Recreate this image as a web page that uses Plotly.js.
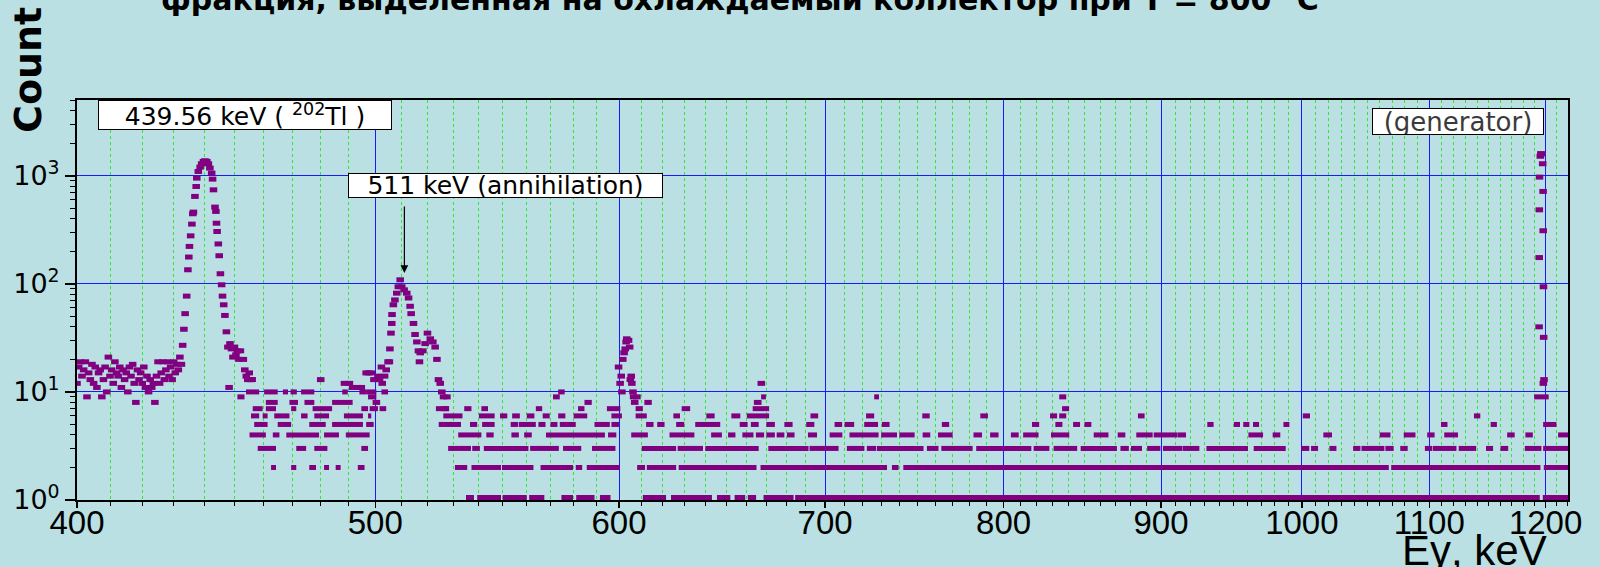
<!DOCTYPE html>
<html>
<head>
<meta charset="utf-8">
<script src="https://cdn.plot.ly/plotly-3.0.1.min.js"></script>
<style>
  html, body { margin: 0; padding: 0; background: #bae0e3; overflow: hidden; }
  #chart { width: 1600px; height: 567px; }
</style>
</head>
<body>
<div id="chart"></div>
<script>
// ---------- DATA ----------
// individually resolved channels (energy keV, counts)
const spotE = [
  400.0,400.5,401.0,401.5,402.0,402.5,403.0,403.5,404.0,404.5,405.0,405.5,406.0,406.5,407.0,407.5,408.0,408.5,409.0,409.5,
  410.0,410.5,411.0,411.5,412.0,412.5,413.0,413.5,414.0,414.5,415.0,415.5,416.0,416.5,417.0,417.5,418.0,418.5,419.0,419.5,
  420.0,420.5,421.0,421.5,422.0,422.5,423.0,423.5,424.0,424.5,425.0,425.5,426.0,426.5,427.0,427.5,428.0,428.5,429.0,429.5,
  430.0,430.5,431.0,431.5,432.0,432.5,
  432.9,433.3,433.7,434.2,434.6,434.9,435.1,435.5,435.9,436.2,436.4,436.9,437.3,437.5,438.0,438.6,439.1,439.7,440.2,440.8,
  441.3,441.8,442.4,442.7,443.0,443.5,443.8,444.0,444.2,444.6,444.9,445.3,445.7,446.0,446.4,446.8,447.3,447.8,448.2,448.5,
  449.0,449.5,450.0,450.5,451.0,451.5,452.0,453.0,453.5,454.0,454.5,455.0,455.5,456.0,480.0,
  488.6,490.4,491.6,493.5,494.8,496.6,497.5,498.5,499.5,500.4,501.0,501.6,502.3,502.6,503.5,504.1,504.8,
  505.3,505.5,505.9,506.2,506.3,506.8,507.4,508.1,508.7,509.4,510.0,510.9,511.9,512.6,513.2,513.6,514.5,515.1,515.8,516.4,
  516.8,517.1,518.1,519.0,519.9,521.0,522.0,522.9,523.6,524.2,524.9,525.5,526.2,526.8,527.5,
  599.8,600.5,601.0,601.3,601.7,602.3,602.8,603.2,603.5,604.3,604.8,605.1,605.5,605.8,606.3,606.6,607.1,608.1,
  667.4,
  1194.2,1194.3,1194.4,1194.6,1195.3,1195.8,1196.4,1197.4,1197.8,1197.9,1198.1,1198.3,1198.6,1198.0
];
const spotC = [
  12,17,19,14,16,19,9,15,13,18,12,17,11,15,16,9,13,17,10,21,
  14,16,12,19,15,14,17,11,16,13,15,10,17,14,18,12,8,16,13,15,
  12,17,11,14,10,13,11,12,8,14,19,12,15,19,13,16,19,14,17,13,
  19,15,18,16,21,18,
  27,38,53,77,135,177,222,278,357,445,461,644,796,951,1096,1203,1292,1358,1377,1358,
  1292,1178,1059,931,741,513,468,364,305,234,182,124,98,77,64,51,36,26,11,28,
  25,21,26,22,24,20,24,20,16,14,13,15,13,13,13,
  12,12,11,11,11,15,15,15,13,8,14,13,17,12,14,16,19,
  19,25,35,43,52,64,71,82,94,109,94,88,82,74,62,53,43,34,29,24,
  19,23,24,28,35,31,29,26,20,13,12,10,9,7,9,
  17,12,14,10,20,23,25,29,31,30,26,13,14,12,10,9,8,9,
  12,
  40,175,484,972,1515,1600,1596,1292,716,310,94,32,13,12
];

// continuous runs of channels sharing one count value: [start keV, end keV]
const band1 = [[535.1,538.3],[539.6,549.3],[550,560],[561,567.4],[574.7,579.7],[581.1,589.1],[591.5,596.2],[610.8,621.5],
  [623.8,643.2],[645.6,652.1],[654.2,659.4],[660.7,664.8],[668.5,683.7],[684.5,1194.8],[1197.5,1220.3]];
const band2 = [[462.5,464.2],[469.5,471.3],[475.9,478.3],[481.2,483.0],[485.4,487.2],[493.5,496.0],[530.7,535.6],
  [537.3,549.3],[549.7,562.8],[565.8,579.7],[580.9,583.7],[585.7,600.3],[608.2,611.8],[612.6,626.2],[627.4,665],
  [667,733.2],[735.9,739.6],[742.2,1067.2],[1069.1,1195.4],[1198.4,1220.3]];
const band3 = [[457.9,464.2],[471.3,474.8],[477.7,482.4],[494.8,497.3],[528,537.1],[537.6,540.7],[542.3,560.7],
  [561.4,573.6],[575.4,583.3],[588,598.4],[610.3,626.2],[626.9,638.9],[640,666.1],[670.9,691.4],[691.9,707.1],
  [711.5,720.9],[722.2,727.3],[727.7,753.5],[755.4,762],[763.6,781.7],[783.8,816.8],[818.2,827.9],[830.5,845.3],
  [847.5,870.8],[873.1,878.6],[880,887.3],[890.7,899.6],[901.3,914.6],[914.9,926.2],[931.1,960.5],[964.6,988],
  [999.4,1005.6],[1006.9,1012.2],[1020.8,1026.2],[1039.1,1044.8],[1045.6,1063.7],[1064.5,1071.1],[1076.4,1082.4],
  [1096.4,1102.5],[1103,1122.6],[1124.5,1139.3],[1147.7,1153.8],[1160.2,1166.9],[1181.5,1196.3],[1197.8,1220.3]];
const band4 = [[455.1,460.7],[463.1,465.4],[467.8,479.4],[481.2,486.6],[489.1,497.9],[532,541.3],[543.3,546.3],
  [553.6,556.7],[558.9,562.1],[568.1,593.7],[595.1,598.8],[605.5,613.1],[623.1,634.8],[642.8,648],[651,654.6],
  [658,663.5],[664.7,668.8],[669.9,674.2],[675.1,679],[680.3,684.2],[691.1,695.8],[702.4,709.1],[712.9,728.6],
  [730,738.7],[740,748.5],[753,757.3],[761.7,770.1],[782.2,787.2],[792,797],[804.4,809.1],[811.8,821.2],
  [828.9,840.3],[855.8,865.3],[871.3,876.3],[883.5,894.4],[895.1,911.3],[911.5,917],[960.8,971.4],[978.4,984],
  [1016.2,1022.8],[1060,1068.5],[1079.2,1088.7],[1098.3,1104.4],[1112.4,1123.9],[1166,1172.6],[1182,1188.6],[1211.3,1220.3]];
const band5 = [[456.7,461.3],[464.8,469.5],[475.9,481.8],[484.1,495.4],[496.6,499.4],[524.3,533.1],[536.7,539.6],
  [541.6,546.7],[553.3,556.4],[556.7,563.8],[564.9,567.9],[570,573],[574,580.9],[589.1,595.9],[596.6,600],
  [612.3,615.7],[617.4,620.8],[626.2,630],[635.2,647.2],[656.7,660.6],[662.2,666.1],[669.9,674.2],[679,683.2],
  [690.2,694.4],[705,709],[710.3,715.4],[720.8,728.3],[730.4,734.6],[763.9,768.1],[817.2,821.6],[831.6,836],
  [842.7,847.1],[849.9,854.3],[931.7,936.1],[950.4,954.8],[957.1,961.5],[964.1,968.5],[986.3,990.7],
  [1109.7,1115.1],[1151.7,1157.1],[1197.8,1209.8]];
const band6 = [[455.6,458.4],[459.6,461.3],[463.6,468.9],[473,475.3],[477.7,483],[488.4,495.4],[497.3,498.5],
  [526.1,533.7],[540.3,546.7],[548.9,551.9],[553.9,557.1],[560,563.2],[566.7,569.7],[573.3,576.4],[580,585.9],
  [596.6,601.3],[607.5,612.6],[624.9,628],[640.5,644.5],[652.6,657],[660.2,671.3],[692.4,696.4],[721.8,726.2],
  [752.8,757],[786.2,790.7],[828.3,832.7],[834,838.4],[884.6,889],[1000.7,1006.1],[1137.4,1142.8]];
const band7 = [[456.2,459.6],[460.7,464.2],[469.5,471.3],[477.1,484.1],[494.8,497.3],[497.9,501],[501.6,504.1],
  [523.2,528.4],[534.4,537.3],[541.3,544],[563.8,566.5],[581.9,584.7],[594.6,600.6],[607.5,610.8],[628.8,632.8],
  [663.1,671.3],[835.8,840.2]];
const band8 = [[460.7,464.8],[468.9,471.9],[474.2,477.7],[484.1,491.6],[584.7,587.9],[611.5,614.9],[663.7,667.5]];
const band9 = [[451,453.4],[497.3,500.4],[571.1,574],[667.3,669.7],[726.2,728.8],[834,838.4],[1189.8,1202.8]];
const band10 = [[453.9,458.4],[460.1,464.8],[466.6,468.4],[469.3,471.5],[473,477.7],[487.8,489.8],[494.1,496.6],
  [496.6,500.4],[502.3,504.8],[573.3,576.1]];
const bandCounts = [2,3,4,5,6,7,8,9,10];
const bandRows = [band2,band3,band4,band5,band6,band7,band8,band9,band10];

// axis ticks and labels
const xTickVals = [400,500,600,700,800,900,1000,1100,1200];
const xTickText = ['400','500','600','700','800','900','1000','1100','1200'];
const yTickVals = [1,10,100,1000];
const yTickText = ['10<sup>0</sup>','10<sup>1</sup>','10<sup>2</sup>','10<sup>3</sup>'];

// annotation contents
const peakLabel = '439.56 keV ( <sup>202</sup>Tl )';
const annLabel = '511 keV (annihilation)';
const annE = 511, annTipCount = 126;
const genLabel = '(generator)';
const titleText = 'фракция, выделенная на охлаждаемый коллектор при T = 800 °C';

// ---------- BUILD ----------
const purple = '#800080';
const bg = '#bae0e3';

function runsToXY(rows, counts) {
  const x = [], y = [];
  rows.forEach((runs, k) => {
    runs.forEach(r => { x.push(r[0], r[1], null); y.push(counts[k], counts[k], null); });
  });
  return {x, y};
}
const b1 = runsToXY([band1], [1]);
const bn = runsToXY(bandRows, bandCounts);

const traces = [
  {type:'scatter', mode:'lines', x:b1.x, y:b1.y, line:{color:purple, width:10}, hoverinfo:'skip'},
  {type:'scatter', mode:'lines', x:bn.x, y:bn.y, line:{color:purple, width:5}, hoverinfo:'skip'},
  {type:'scatter', mode:'markers', x:spotE, y:spotC,
   marker:{symbol:'line-ew', size:5.4, color:purple, line:{color:purple, width:5}}}
];

const xMinor = [];
for (let v = 410; v <= 1220; v += 10) if (v % 100 !== 0) xMinor.push(v);
const yMinor = [];
for (let d = 1; d <= 1000; d *= 10) for (let m = 2; m <= 9; m++) if (m*d < 5100) yMinor.push(m*d);

const L = 77, R = 1568, T = 100, B = 500;
const px = v => (v - L) / (R - L);
const py = v => (B - v) / (B - T);

const layout = {
  width: 1600, height: 567,
  margin: {l: L, r: 1600 - R, t: T, b: 567 - B, pad: 0},
  paper_bgcolor: bg, plot_bgcolor: bg,
  showlegend: false,
  title: {
    text: titleText,
    font: {family: 'DejaVu Sans', size: 30, weight: 'bold', color: '#000'},
    xref: 'container', x: 0.4625, xanchor: 'center',
    yref: 'container', y: 1 - 10/567, yanchor: 'bottom'
  },
  xaxis: {
    type: 'log', range: [Math.log10(400), Math.log10(1220.3)],
    tickmode: 'array', tickvals: xTickVals, ticktext: xTickText,
    ticks: 'outside', ticklen: 6, tickwidth: 1.5, tickcolor: '#000',
    ticklabelstandoff: -14,
    tickfont: {family: 'Liberation Sans Narrow, Arial Narrow, Liberation Sans', size: 33, color: '#000'},
    showgrid: true, gridcolor: '#1a1aff', gridwidth: 1,
    minor: {tickmode: 'array', tickvals: xMinor, ticks: 'outside', ticklen: 4, tickwidth: 1, tickcolor: '#000',
            showgrid: true, gridcolor: '#33e633', griddash: 'dot', gridwidth: 1},
    showline: true, linecolor: '#000', linewidth: 2, mirror: true, zeroline: false
  },
  yaxis: {
    type: 'log', range: [0, 3.701],
    tickmode: 'array', tickvals: yTickVals, ticktext: yTickText,
    ticks: 'outside', ticklen: 10, tickwidth: 1.5, tickcolor: '#000',
    tickfont: {family: 'DejaVu Sans', size: 27, color: '#000'},
    showgrid: true, gridcolor: '#1a1aff', gridwidth: 1,
    minor: {tickmode: 'array', tickvals: yMinor, ticks: 'outside', ticklen: 5, tickwidth: 1, tickcolor: '#000', showgrid: false},
    showline: true, linecolor: '#000', linewidth: 2, mirror: true, zeroline: false
  },
  annotations: [
    {text: peakLabel, xref: 'paper', yref: 'paper', x: px(245), y: py(115.5), xanchor: 'center', yanchor: 'middle',
     showarrow: false, width: 292, height: 28, bgcolor: '#fff', bordercolor: '#000', borderwidth: 1, borderpad: 0,
     font: {family: 'DejaVu Sans', size: 25, color: '#000'}},
    {text: annLabel, xref: 'paper', yref: 'paper', x: px(505.5), y: py(185.5), xanchor: 'center', yanchor: 'middle',
     showarrow: false, width: 313, height: 23, bgcolor: '#fff', bordercolor: '#000', borderwidth: 1, borderpad: 0,
     font: {family: 'DejaVu Sans', size: 25, color: '#000'}},
    {text: '', xref: 'x', yref: 'y', x: Math.log10(annE), y: Math.log10(annTipCount), showarrow: true,
     ax: 0, ay: -68, arrowhead: 2, arrowsize: 1.3, arrowwidth: 1.2, arrowcolor: '#000'},
    {text: genLabel, xref: 'paper', yref: 'paper', x: px(1458), y: py(121.5), xanchor: 'center', yanchor: 'middle',
     showarrow: false, width: 170, height: 25, bgcolor: '#fff', bordercolor: '#000', borderwidth: 1, borderpad: 0,
     font: {family: 'DejaVu Sans', size: 26, color: '#3a3a3a'}},
    {text: 'Count', xref: 'paper', yref: 'paper', x: px(28), y: py(70), xanchor: 'center', yanchor: 'middle',
     textangle: -90, showarrow: false, font: {family: 'DejaVu Sans', size: 38, weight: 'bold', color: '#000'}},
    {text: 'Eγ, keV', xref: 'paper', yref: 'paper', x: px(1474), y: py(550), xanchor: 'center', yanchor: 'middle',
     showarrow: false, font: {family: 'Liberation Sans', size: 42, color: '#000'}}
  ]
};

Plotly.newPlot('chart', traces, layout, {displayModeBar: false, staticPlot: true});
</script>
</body>
</html>
